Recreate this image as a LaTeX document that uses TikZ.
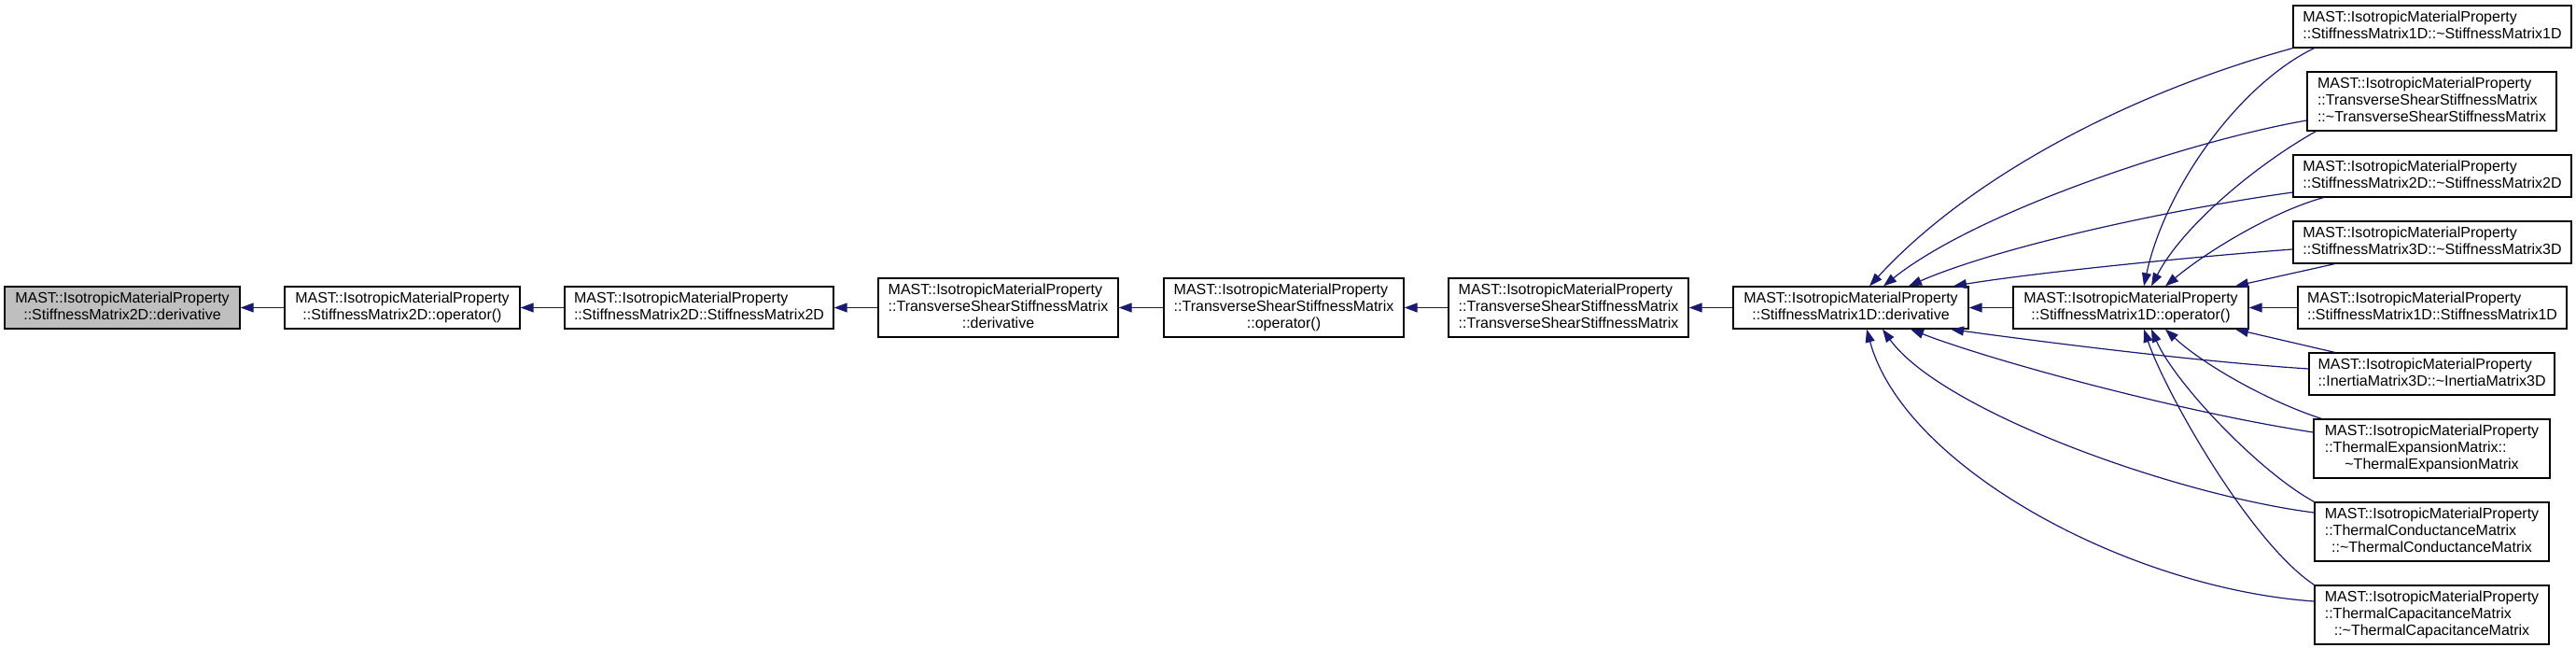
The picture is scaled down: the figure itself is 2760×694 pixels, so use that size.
\documentclass[tikz,border=0pt]{standalone}
\usepackage{fontspec}
\setmainfont{Liberation Sans}
\usetikzlibrary{arrows.meta,calc}
\definecolor{edgec}{HTML}{191970}
\definecolor{grayfill}{HTML}{BFBFBF}
\newcommand{\tabL}[1]{\begin{tabular}{@{}l@{}}#1\end{tabular}}
\newcommand{\tabC}[1]{\begin{tabular}{@{}c@{}}#1\end{tabular}}
\newcommand{\mcc}[1]{\multicolumn{1}{@{}c@{}}{#1}}
\newcommand{\tld}{\textasciitilde}
\begin{document}
\begin{tikzpicture}[x=0.5pt,y=-0.5pt,
  box/.style={draw=black,line width=0.65pt,fill=white,inner sep=0pt,font=\fontsize{8}{9}\selectfont},
  two/.style={minimum width=#1,minimum height=22.5pt},
  three/.style={minimum width=#1,minimum height=31.5pt},
  edge/.style={draw=edgec,line width=0.6pt,-{Triangle[length=7pt,width=5pt]}}]
\useasboundingbox (0,0) rectangle (2760,694);

% main chain
\node[box,two=126pt,fill=grayfill] (A) at (131,329.5) {\tabC{MAST::IsotropicMaterialProperty\\::StiffnessMatrix2D::derivative}};
\node[box,two=126pt] (B) at (431,329.5) {\tabC{MAST::IsotropicMaterialProperty\\::StiffnessMatrix2D::operator()}};
\node[box,two=144pt] (C) at (749,329.5) {\tabL{MAST::IsotropicMaterialProperty\\::StiffnessMatrix2D::StiffnessMatrix2D}};
\node[box,three=128.5pt] (D) at (1069.5,329.5) {\tabL{MAST::IsotropicMaterialProperty\\::TransverseShearStiffnessMatrix\\\mcc{::derivative}}};
\node[box,three=128.5pt] (E) at (1375.5,329.5) {\tabL{MAST::IsotropicMaterialProperty\\::TransverseShearStiffnessMatrix\\\mcc{::operator()}}};
\node[box,three=128.5pt] (F) at (1680.5,329.5) {\tabL{MAST::IsotropicMaterialProperty\\::TransverseShearStiffnessMatrix\\::TransverseShearStiffnessMatrix}};
\node[box,two=126pt] (G) at (1983,329.5) {\tabC{MAST::IsotropicMaterialProperty\\::StiffnessMatrix1D::derivative}};
\node[box,two=126pt] (H) at (2283,329.5) {\tabC{MAST::IsotropicMaterialProperty\\::StiffnessMatrix1D::operator()}};

% right column
\node[box,two=149pt] (R1) at (2606,28.5) {\tabL{MAST::IsotropicMaterialProperty\\::StiffnessMatrix1D::\tld StiffnessMatrix1D}};
\node[box,three=133.5pt] (R2) at (2605.5,108.5) {\tabL{MAST::IsotropicMaterialProperty\\::TransverseShearStiffnessMatrix\\::\tld TransverseShearStiffnessMatrix}};
\node[box,two=149pt] (R3) at (2606,188.5) {\tabL{MAST::IsotropicMaterialProperty\\::StiffnessMatrix2D::\tld StiffnessMatrix2D}};
\node[box,two=149pt] (R4) at (2606,259.5) {\tabL{MAST::IsotropicMaterialProperty\\::StiffnessMatrix3D::\tld StiffnessMatrix3D}};
\node[box,two=144pt] (R5) at (2606,329.5) {\tabL{MAST::IsotropicMaterialProperty\\::StiffnessMatrix1D::StiffnessMatrix1D}};
\node[box,two=131.5pt] (R6) at (2605.5,400.5) {\tabL{MAST::IsotropicMaterialProperty\\::InertiaMatrix3D::\tld InertiaMatrix3D}};
\node[box,three=126.5pt] (R7) at (2605.5,480.5) {\tabL{MAST::IsotropicMaterialProperty\\::ThermalExpansionMatrix::\\\mcc{\tld ThermalExpansionMatrix}}};
\node[box,three=125.5pt] (R8) at (2605.5,569.5) {\tabL{MAST::IsotropicMaterialProperty\\::ThermalConductanceMatrix\\\mcc{::\tld ThermalConductanceMatrix}}};
\node[box,three=125.5pt] (R9) at (2605.5,658.5) {\tabL{MAST::IsotropicMaterialProperty\\::ThermalCapacitanceMatrix\\\mcc{::\tld ThermalCapacitanceMatrix}}};

% chain edges
\draw[edge] (B) -- (A);
\draw[edge] (C) -- (B);
\draw[edge] (D) -- (C);
\draw[edge] (E) -- (D);
\draw[edge] (F) -- (E);
\draw[edge] (G) -- (F);
\draw[edge] (H) -- (G);

% edges into G
\draw[edge] (R1.south west) .. controls (2280,100) and (2110,190) .. ($(G.north)+(20,0)$);
\draw[edge] ($(R2.west)+(0,20.5)$) .. controls (2350,150) and (2120,225) .. ($(G.north)+(35,0)$);
\draw[edge] ($(R3.west)+(0,17.5)$) .. controls (2320,225) and (2140,265) .. ($(G.north)+(62,0)$);
\draw[edge] ($(R4.west)+(0,7.5)$) .. controls (2350,275) and (2180,292) .. ($(G.north)+(110,0)$);
\draw[edge] ($(R6.west)+(0,-5.5)$) .. controls (2350,387) and (2180,365) .. ($(G.south)+(107,0)$);
\draw[edge] ($(R7.west)+(0,-17.5)$) .. controls (2330,440) and (2130,385) .. ($(G.south)+(64,0)$);
\draw[edge] ($(R8.west)+(0,-20.5)$) .. controls (2330,530) and (2080,440) .. ($(G.south)+(34,0)$);
\draw[edge] ($(R9.west)+(0,-14.5)$) .. controls (2280,630) and (2040,500) .. ($(G.south)+(17,0)$);

% edges into H
\draw[edge] ($(R1.south west)+(23,0)$) .. controls (2400,90) and (2320,200) .. ($(H.north)+(14,0)$);
\draw[edge] ($(R2.south west)+(10,0)$) .. controls (2420,175) and (2340,240) .. ($(H.north)+(22,0)$);
\draw[edge] ($(R3.south west)+(33,0)$) .. controls (2440,225) and (2370,265) .. ($(H.north)+(37,0)$);
\draw[edge] ($(R4.south west)+(45,0)$) -- ($(H.north)+(112,0)$);
\draw[edge] (R5) -- (H);
\draw[edge] ($(R6.north west)+(28,0)$) -- ($(H.south)+(112,0)$);
\draw[edge] ($(R7.north west)+(9,0)$) .. controls (2430,430) and (2360,390) .. ($(H.south)+(37,0)$);
\draw[edge] (R8.north west) .. controls (2420,505) and (2330,410) .. ($(H.south)+(22,0)$);
\draw[edge] (R9.north west) .. controls (2410,580) and (2320,420) .. ($(H.south)+(14,0)$);
\end{tikzpicture}
\end{document}
